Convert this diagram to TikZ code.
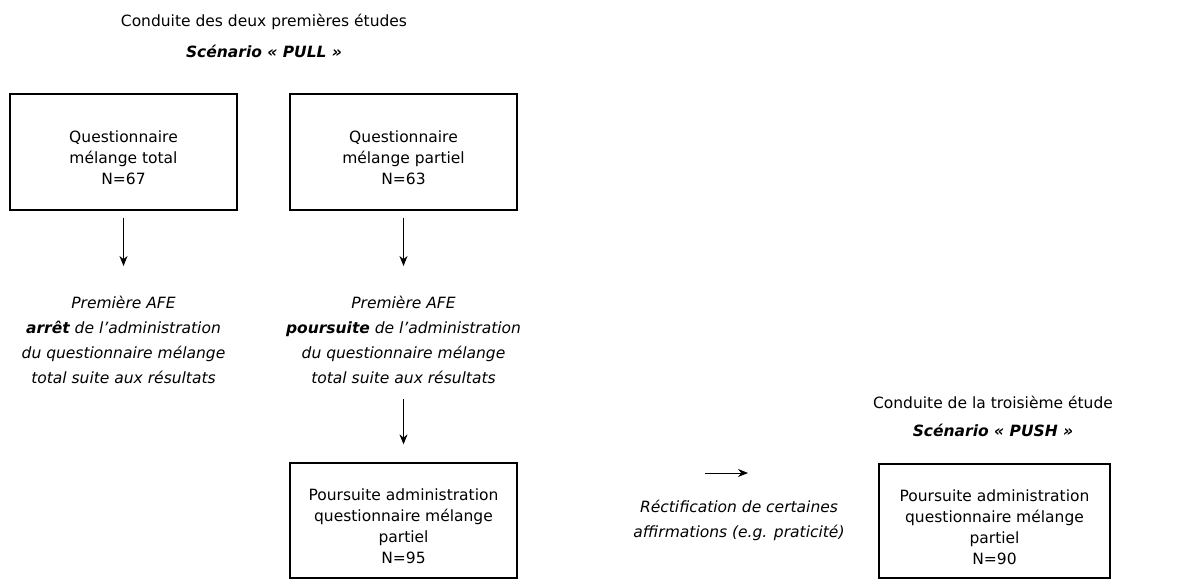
\documentclass[tikz,border=0pt]{standalone}
\usepackage{fontspec}
\setmainfont{DejaVu Sans}
\usetikzlibrary{arrows.meta, positioning}
\newcommand{\cale}{\rule{0pt}{24pt}}

\begin{document}
\begin{tikzpicture}[x=1pt, y=-1pt,
  cadre/.style={draw, line width=1.3pt, minimum width=227pt, minimum height=116pt, align=center, inner sep=0pt, font=\fontsize{15.5}{21}\selectfont},
  texte/.style={align=center, inner sep=0pt, font=\fontsize{15.5}{25}\selectfont\itshape},
  titre/.style={inner sep=0pt, font=\fontsize{15.5}{18}\selectfont},
  fleche/.style={-{Stealth[length=10pt, width=8pt]}, line width=0.9pt}]
  \useasboundingbox (0,0) rectangle (1185,581);
  % scenario pull
  \node[titre] (tpull) at (264,22) {Conduite des deux premières études};
  \node[titre, font=\fontsize{15.5}{18}\selectfont\bfseries\itshape] (spull) at (264,51) {Scénario « PULL »};
  \node[cadre] (qtotal) at (123.5,152) {\cale Questionnaire\\mélange total\\N=67};
  \node[cadre] (qpartiel) at (403.5,152) {\cale Questionnaire\\mélange partiel\\N=63};
  \node[texte] (afe1) at (123.5,340) {Première AFE\\\textbf{arrêt} de l’administration\\du questionnaire mélange\\total suite aux résultats};
  \node[texte] (afe2) at (403.5,340) {Première AFE\\\textbf{poursuite} de l’administration\\du questionnaire mélange\\total suite aux résultats};
  \node[cadre, minimum height=115pt] (suite95) at (403.5,520.5) {\cale Poursuite administration\\questionnaire mélange\\partiel\\N=95};
  % scenario push
  \node[titre] (tpush) at (993,402) {Conduite de la troisième étude};
  \node[titre, font=\fontsize{15.5}{18}\selectfont\bfseries\itshape] (spush) at (993,430) {Scénario « PUSH »};
  \node[cadre, minimum width=231pt, minimum height=114pt] (suite90) at (994.5,521) {\cale Poursuite administration\\questionnaire mélange\\partiel\\N=90};
  \node[texte] (rect) at (739,520) {Réctification de certaines\\affirmations (e.g. praticité)};
  \coordinate (fa) at (705,473);
  \coordinate (fb) at (748,473);
  \draw[fleche] ([yshift=-7pt]qtotal.south) -- ([yshift=30pt]afe1.north);
  \draw[fleche] ([yshift=-7pt]qpartiel.south) -- ([yshift=30pt]afe2.north);
  \draw[fleche] ([yshift=-15pt]afe2.south) -- ([yshift=18pt]suite95.north);
  \draw[fleche] (fa) -- (fb);
\end{tikzpicture}
\end{document}
